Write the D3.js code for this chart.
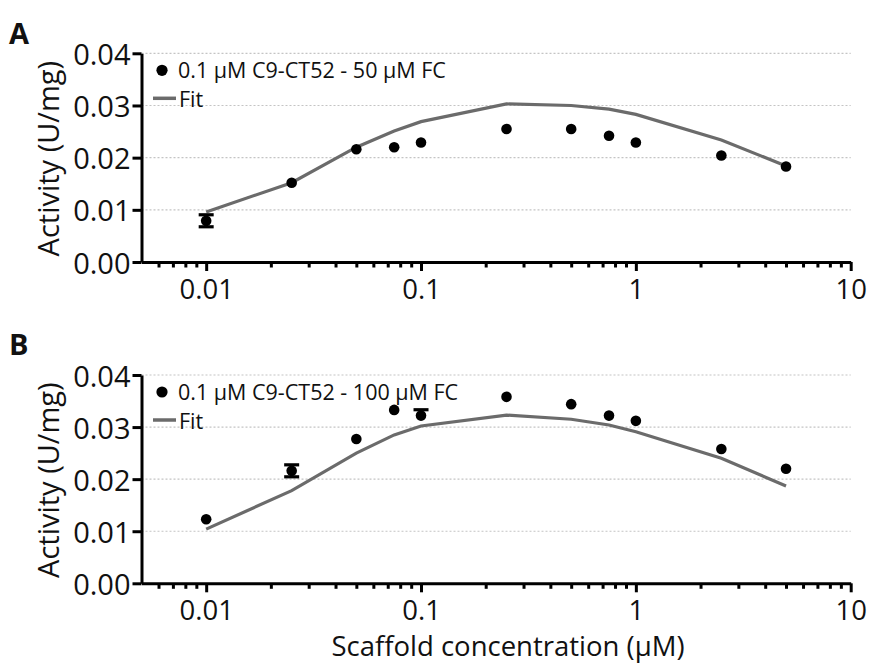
<!DOCTYPE html>
<html>
<head>
<meta charset="utf-8">
<script src="https://cdn.jsdelivr.net/npm/d3@7"></script>
<style>
  html, body { margin: 0; padding: 0; background: #fff; }
  svg { display: block; }
  text { font-family: "Open Sans", "Noto Sans", sans-serif; fill: #111; }
</style>
</head>
<body>
<svg id="chart" width="871" height="664"></svg>
<script>
// ---- data ----
const conc = [0.01, 0.025, 0.05, 0.075, 0.1, 0.25, 0.5, 0.75, 1, 2.5, 5];

const actA   = [0.0079, 0.0152, 0.0216, 0.0220, 0.0229, 0.0255, 0.0255, 0.0242, 0.0229, 0.0204, 0.0183];
const errHiA = [0.00115, 0, 0, 0, 0, 0, 0, 0, 0, 0, 0];
const errLoA = [0.00115, 0, 0, 0, 0, 0, 0, 0, 0, 0, 0];
const fitA   = [0.0096, 0.0152, 0.0220, 0.0251, 0.0269, 0.0303, 0.0300, 0.0293, 0.0283, 0.0234, 0.0184];

const actB   = [0.0123, 0.0216, 0.0277, 0.0333, 0.0322, 0.0358, 0.0344, 0.0322, 0.0312, 0.0258, 0.0220];
const errHiB = [0, 0.00115, 0, 0, 0.00113, 0, 0, 0, 0, 0, 0];
const errLoB = [0, 0.00115, 0, 0, 0, 0, 0, 0, 0, 0, 0];
const fitB   = [0.0104, 0.0178, 0.0250, 0.0285, 0.0302, 0.0323, 0.0315, 0.0304, 0.0291, 0.0240, 0.0187];

const yTicks = [0, 0.01, 0.02, 0.03, 0.04];
const xMajor = [0.01, 0.1, 1, 10];
const xTickLabels = ["0.01", "0.1", "1", "10"];
const xMinor = [0.006,0.007,0.008,0.009,0.02,0.03,0.04,0.05,0.06,0.07,0.08,0.09,
                0.2,0.3,0.4,0.5,0.6,0.7,0.8,0.9,2,3,4,5,6,7,8,9];

const legendA = "0.1 \u00B5M C9-CT52 - 50 \u00B5M FC";
const legendB = "0.1 \u00B5M C9-CT52 - 100 \u00B5M FC";
const yTitle = "Activity (U/mg)";
const xTitle = "Scaffold concentration (\u00B5M)";

// ---- drawing ----
const svg = d3.select("#chart");
const x = d3.scaleLog().domain([0.005, 10]).range([141.5, 850.7]);
const fitColor = "#6b6b6b";

function panel(top, bottom, act, errHi, errLo, fit, legendText, letter, letterY) {
  const y = d3.scaleLinear().domain([0, 0.04]).range([bottom, top]);
  const g = svg.append("g");

  // grid
  g.selectAll("line.grid").data(yTicks.filter(d => d > 0)).join("line")
    .attr("class", "grid")
    .attr("x1", x(0.005)).attr("x2", x(10))
    .attr("y1", d => y(d)).attr("y2", d => y(d))
    .attr("stroke", "#c4c4c4").attr("stroke-width", 1.2)
    .attr("stroke-dasharray", "2,2");

  // fit line
  const pts = conc.map((c, i) => [c, fit[i]]);
  g.append("path").datum(pts)
    .attr("fill", "none").attr("stroke", fitColor).attr("stroke-width", 3.2)
    .attr("d", d3.line().x(d => x(d[0])).y(d => y(d[1])));

  // error bars
  const eb = conc.map((c, i) => ({c, v: act[i], hi: errHi[i], lo: errLo[i]})).filter(d => d.hi > 0 || d.lo > 0);
  eb.forEach(d => {
    const cx = x(d.c);
    const y1 = y(d.v + d.hi), y2 = y(d.v - d.lo);
    g.append("line").attr("x1", cx).attr("x2", cx).attr("y1", y1).attr("y2", y2)
      .attr("stroke", "#000").attr("stroke-width", 3.5);
    if (d.hi > 0) g.append("line").attr("x1", cx - 7.5).attr("x2", cx + 7.5).attr("y1", y1).attr("y2", y1)
      .attr("stroke", "#000").attr("stroke-width", 3.2);
    if (d.lo > 0) g.append("line").attr("x1", cx - 7.5).attr("x2", cx + 7.5).attr("y1", y2).attr("y2", y2)
      .attr("stroke", "#000").attr("stroke-width", 3.2);
  });

  // points
  g.selectAll("circle.pt").data(conc.map((c, i) => [c, act[i]])).join("circle")
    .attr("class", "pt")
    .attr("cx", d => x(d[0])).attr("cy", d => y(d[1])).attr("r", 5.3).attr("fill", "#000");

  // y axis
  const ya = g.append("g").attr("transform", `translate(${x(0.005)},0)`)
    .call(d3.axisLeft(y).tickValues(yTicks).tickFormat(d3.format(".2f")).tickSize(9).tickSizeOuter(0).tickPadding(2));
  ya.select(".domain").attr("stroke", "#000").attr("stroke-width", 3);
  ya.selectAll(".tick line").attr("stroke", "#000").attr("stroke-width", 3);
  ya.selectAll(".tick text").attr("font-size", 29).attr("dy", "0.38em")
    .style("font-family", "'Open Sans', sans-serif").attr("fill", "#111");

  // x axis
  const xa = g.append("g").attr("transform", `translate(0,${bottom})`)
    .call(d3.axisBottom(x).tickValues(xMajor).tickFormat((d, i) => xTickLabels[i]).tickSize(9).tickSizeOuter(0));
  xa.select(".domain").attr("stroke", "#000").attr("stroke-width", 3);
  xa.selectAll(".tick line").attr("stroke", "#000").attr("stroke-width", 3);
  xa.selectAll(".tick text").attr("font-size", 27.5).attr("y", 37).attr("dy", 0)
    .style("font-family", "'Open Sans', sans-serif").attr("fill", "#111");
  const xm = g.append("g").attr("transform", `translate(0,${bottom})`)
    .call(d3.axisBottom(x).tickValues(xMinor).tickFormat("").tickSize(5.5).tickSizeOuter(0));
  xm.select(".domain").remove();
  xm.selectAll(".tick line").attr("stroke", "#000").attr("stroke-width", 3);

  // legend
  g.append("circle").attr("cx", 162).attr("cy", top + 17).attr("r", 5.6).attr("fill", "#000");
  g.append("text").attr("x", 178).attr("y", top + 24.5).attr("font-size", 21.5).text(legendText);
  g.append("line").attr("x1", 153).attr("x2", 176).attr("y1", top + 45).attr("y2", top + 45)
    .attr("stroke", fitColor).attr("stroke-width", 3.5);
  g.append("text").attr("x", 179).attr("y", top + 53.5).attr("font-size", 21.5).text("Fit");

  // y title
  const cy = (top + bottom) / 2 + 1;
  g.append("text").attr("transform", `translate(59,${cy}) rotate(-90)`)
    .attr("text-anchor", "middle").attr("font-size", 29).text(yTitle);

  // panel letter
  g.append("text").attr("x", 9).attr("y", letterY).attr("font-size", 29)
    .attr("font-weight", "bold").style("font-family", "'Open Sans', sans-serif").text(letter);
}

panel(53.3, 262, actA, errHiA, errLoA, fitA, legendA, "A", 43.5);
panel(375, 583.3, actB, errHiB, errLoB, fitB, legendB, "B", 355);

svg.append("text").attr("x", 508).attr("y", 656).attr("text-anchor", "middle")
  .attr("font-size", 27.5).text(xTitle);
</script>
</body>
</html>
